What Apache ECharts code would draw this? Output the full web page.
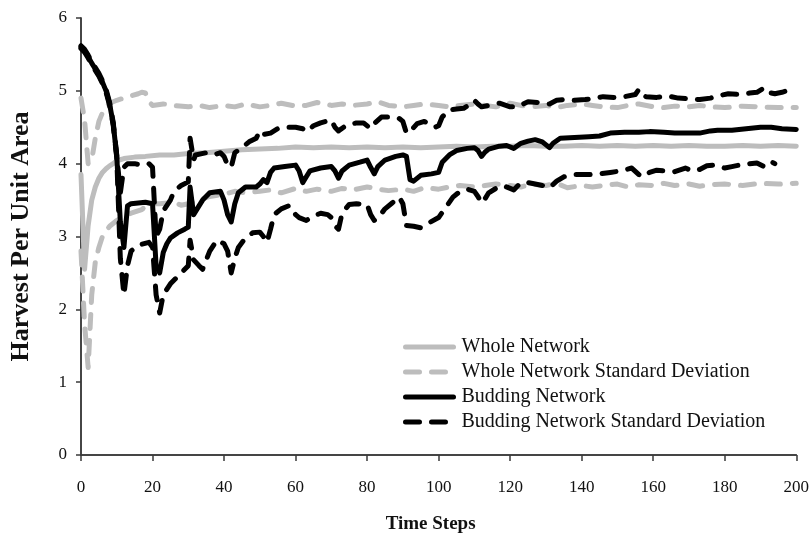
<!DOCTYPE html>
<html>
<head>
<meta charset="utf-8">
<script src="https://cdn.jsdelivr.net/npm/echarts@6/dist/echarts.min.js"></script>
<style>
  html, body { margin: 0; padding: 0; background: #fff; }
  #chart { width: 812px; height: 542px; }
</style>
</head>
<body>
<div id="chart"></div>
<script>
// data: [time step, harvest per unit area]
var wholeMean = [[0,3.85],[1,2.55],[2,3.15],[3,3.5],[4,3.68],[5,3.8],[6,3.88],[7,3.93],[8,3.97],[9,4.0],[10,4.04],[12,4.07],[15,4.09],[18,4.1],[22,4.12],[26,4.12],[30,4.14],[35,4.15],[40,4.17],[45,4.19],[50,4.2],[55,4.21],[60,4.23],[65,4.22],[70,4.23],[75,4.22],[80,4.23],[85,4.22],[90,4.23],[95,4.22],[100,4.23],[105,4.24],[110,4.23],[115,4.24],[120,4.24],[125,4.25],[130,4.24],[135,4.24],[140,4.25],[145,4.24],[150,4.25],[155,4.24],[160,4.25],[165,4.24],[170,4.25],[175,4.24],[180,4.24],[185,4.25],[190,4.24],[195,4.25],[200,4.24]];

var wholeUpper = [[0,4.9],[1,4.6],[2,4.0],[3,4.05],[4,4.35],[5,4.58],[6,4.7],[7,4.78],[8,4.83],[10,4.87],[12,4.9],[14,4.93],[16,4.96],[17,4.98],[18,4.97],[19,4.85],[20,4.8],[23,4.82],[26,4.8],[30,4.78],[33,4.8],[36,4.77],[40,4.8],[43,4.78],[46,4.82],[50,4.78],[53,4.8],[56,4.83],[60,4.79],[63,4.8],[66,4.84],[70,4.8],[73,4.82],[76,4.8],[80,4.82],[83,4.85],[86,4.8],[90,4.78],[93,4.8],[96,4.82],[100,4.8],[103,4.78],[106,4.8],[110,4.82],[113,4.8],[116,4.78],[120,4.83],[123,4.8],[126,4.78],[130,4.8],[133,4.77],[136,4.8],[140,4.82],[143,4.8],[146,4.78],[150,4.77],[153,4.8],[156,4.82],[160,4.78],[163,4.77],[166,4.79],[170,4.78],[173,4.8],[176,4.78],[180,4.77],[185,4.79],[190,4.78],[195,4.77],[200,4.77]];

var wholeLower = [[0,2.8],[1,1.8],[2,1.2],[3,2.2],[4,2.65],[5,2.85],[6,3.0],[7,3.08],[8,3.14],[10,3.22],[12,3.27],[14,3.32],[17,3.37],[19,3.45],[22,3.45],[26,3.47],[28,3.43],[30,3.45],[33,3.5],[36,3.55],[40,3.58],[43,3.62],[46,3.6],[50,3.62],[53,3.64],[56,3.6],[60,3.66],[63,3.62],[66,3.65],[70,3.62],[73,3.66],[76,3.64],[80,3.68],[83,3.65],[86,3.63],[90,3.65],[93,3.62],[96,3.67],[100,3.65],[103,3.68],[106,3.7],[110,3.68],[113,3.7],[116,3.72],[120,3.7],[123,3.68],[126,3.72],[130,3.7],[133,3.73],[136,3.67],[140,3.7],[143,3.68],[146,3.7],[150,3.72],[153,3.68],[156,3.71],[160,3.7],[163,3.73],[166,3.7],[170,3.72],[173,3.69],[176,3.71],[180,3.72],[185,3.7],[190,3.73],[195,3.72],[200,3.73]];

var budMean = [[0,5.6],[1,5.55],[2,5.47],[3,5.38],[4,5.3],[5,5.22],[6,5.12],[7,5.0],[8,4.82],[9,4.55],[10,4.1],[11,3.2],[12,2.85],[13,3.42],[14,3.45],[16,3.46],[18,3.47],[20,3.45],[21,2.6],[22,2.5],[23,2.78],[24,2.9],[25,2.98],[27,3.05],[29,3.1],[30,3.13],[30.5,3.68],[31.5,3.3],[33,3.42],[34,3.5],[36,3.6],[39,3.62],[40,3.5],[41,3.3],[42,3.2],[43,3.45],[44,3.6],[46,3.68],[49,3.68],[50,3.72],[51,3.78],[52,3.74],[53,3.88],[54,3.94],[57,3.96],[60,3.98],[61,3.9],[62,3.74],[63,3.82],[64,3.9],[67,3.94],[70,3.96],[71,3.9],[72,3.8],[73,3.9],[75,3.98],[78,4.02],[80,4.05],[81,3.95],[82,3.86],[83,3.96],[85,4.05],[88,4.1],[90,4.12],[91,4.1],[92,3.78],[93,3.76],[95,3.84],[98,3.86],[100,3.88],[101,4.02],[103,4.12],[105,4.18],[108,4.21],[110,4.22],[111,4.18],[112,4.1],[113,4.16],[114,4.2],[117,4.24],[119,4.25],[121,4.21],[123,4.28],[125,4.31],[127,4.33],[129,4.3],[131,4.22],[132,4.28],[134,4.35],[138,4.36],[142,4.37],[145,4.38],[148,4.42],[152,4.43],[156,4.43],[159,4.44],[163,4.43],[166,4.42],[170,4.42],[173,4.42],[176,4.45],[178,4.46],[182,4.46],[186,4.48],[190,4.5],[193,4.5],[196,4.48],[200,4.47]];

var budUpper = [[0,5.62],[1,5.57],[2,5.49],[3,5.4],[4,5.32],[5,5.24],[6,5.14],[7,5.02],[8,4.84],[9,4.57],[10,4.12],[11,3.6],[12,3.95],[13,4.0],[15,4.0],[17,3.98],[19,4.0],[20,3.95],[21,3.0],[22,3.1],[23,3.35],[25,3.5],[26,3.62],[28,3.7],[30,3.75],[30.5,4.35],[31.5,4.05],[32,4.12],[35,4.15],[37,4.12],[39,4.15],[40,4.1],[41,3.98],[42,3.95],[43,4.15],[45,4.22],[47,4.3],[49,4.35],[50,4.45],[51,4.4],[53,4.42],[55,4.48],[57,4.5],[60,4.5],[62,4.48],[63,4.44],[65,4.52],[67,4.56],[70,4.6],[71,4.5],[72,4.45],[74,4.52],[77,4.56],[79,4.56],[81,4.48],[82,4.55],[84,4.64],[87,4.64],[89,4.62],[90,4.58],[91,4.42],[92,4.44],[94,4.55],[96,4.58],[99,4.5],[100,4.52],[101,4.64],[103,4.74],[105,4.75],[107,4.76],[109,4.82],[110,4.87],[111,4.82],[112,4.78],[114,4.8],[117,4.83],[120,4.78],[122,4.78],[125,4.85],[128,4.84],[131,4.82],[133,4.87],[135,4.88],[138,4.87],[141,4.88],[144,4.9],[146,4.92],[149,4.91],[152,4.92],[155,4.95],[156,5.02],[157,4.95],[158,4.92],[161,4.91],[164,4.93],[167,4.9],[170,4.89],[173,4.88],[176,4.9],[178,4.93],[181,4.96],[184,4.95],[187,4.97],[189,4.98],[191,5.04],[192,4.98],[194,4.96],[196,4.98],[198,5.01],[200,5.0]];

var budLower = [[0,5.58],[1,5.53],[2,5.45],[3,5.36],[4,5.28],[5,5.2],[6,5.1],[7,4.98],[8,4.8],[9,4.53],[10,4.08],[11,2.7],[12,2.2],[13,2.6],[14,2.8],[16,2.88],[19,2.92],[20,2.85],[21,2.2],[22,1.95],[23,2.2],[25,2.35],[28,2.5],[30,2.6],[30.5,2.95],[31.5,2.68],[33,2.6],[34,2.55],[36,2.8],[38,2.95],[40,2.9],[41,2.8],[42,2.5],[43,2.7],[44,2.85],[46,2.98],[48,3.05],[50,3.06],[51,3.0],[52,2.92],[53,3.1],[54,3.3],[56,3.38],[58,3.42],[59,3.4],[60,3.3],[61,3.26],[63,3.22],[65,3.28],[67,3.32],[69,3.3],[70,3.26],[71,3.15],[72,3.1],[73,3.32],[75,3.44],[77,3.45],[80,3.44],[81,3.3],[82,3.22],[83,3.25],[85,3.38],[87,3.46],[89,3.54],[90,3.45],[91,3.15],[93,3.14],[95,3.12],[97,3.18],[100,3.26],[102,3.4],[104,3.54],[106,3.62],[108,3.65],[110,3.62],[111,3.55],[112,3.46],[113,3.52],[114,3.6],[116,3.66],[118,3.7],[120,3.66],[121,3.64],[123,3.74],[125,3.74],[127,3.72],[129,3.7],[131,3.67],[133,3.76],[135,3.82],[138,3.85],[142,3.85],[145,3.86],[148,3.88],[151,3.9],[154,3.94],[156,3.85],[157,3.82],[159,3.88],[161,3.91],[163,3.9],[166,3.89],[169,3.94],[171,3.9],[173,3.92],[175,3.97],[177,3.98],[180,3.94],[182,3.96],[184,3.98],[187,4.0],[189,4.01],[191,3.96],[193,4.03],[194,4.0]];

var seriesNames = ['Whole Network', 'Whole Network Standard Deviation', 'Budding Network', 'Budding Network Standard Deviation'];

var serif = "'Liberation Serif', 'Times New Roman', serif";
var grey = '#bdbdbd';
var axisCol = '#3a3a3a';
var dash = [14, 12];

function line(name, data, color, dashed) {
    return {
        name: name,
        type: 'line',
        data: data,
        symbol: 'none',
        animation: false,
        lineStyle: {
            color: color,
            width: 5,
            type: dashed ? dash : 'solid',
            cap: 'round',
            join: 'round'
        },
        itemStyle: { color: color }
    };
}

var mychart = echarts.init(document.getElementById('chart'));
var option = {
    backgroundColor: '#fff',
    animation: false,
    grid: {
        left: 75,
        right: 15,
        top: 18,
        bottom: 87
    },
    legend: {
        data: seriesNames,
        orient: 'vertical',
        left: 398,
        top: 332,
        itemWidth: 48,
        itemHeight: 12,
        itemGap: 5,
        itemStyle: { opacity: 0, borderWidth: 0 },
        lineStyle: { width: 5, cap: 'round' },
        textStyle: {
            fontFamily: serif,
            fontSize: 20,
            color: '#111',
            padding: [0, 0, 0, 3]
        }
    },
    xAxis: [
        {
            type: 'value',
            min: 0,
            max: 200,
            interval: 20,
            position: 'bottom',
            offset: 8,
            name: 'Time Steps',
            nameLocation: 'middle',
            nameGap: 52,
            nameTextStyle: { fontFamily: serif, fontSize: 19, fontWeight: 'bold', color: '#111', padding: [0, 16, 0, 0] },
            axisLine: { show: true, lineStyle: { color: axisCol, width: 1.5 } },
            axisTick: { show: true, length: 6, lineStyle: { color: axisCol, width: 1.5 } },
            axisLabel: { fontFamily: serif, fontSize: 17, color: '#111', margin: 16 },
            splitLine: { show: false }
        },
        {
            type: 'value',
            min: 0,
            max: 200,
            position: 'top',
            axisLine: { show: true, lineStyle: { color: axisCol, width: 1.5 } },
            axisTick: { show: false },
            axisLabel: { show: false },
            splitLine: { show: false }
        }
    ],
    yAxis: [
        {
            type: 'value',
            min: 0,
            max: 6,
            interval: 1,
            position: 'left',
            name: 'Harvest Per Unit Area',
            nameLocation: 'middle',
            nameRotate: 90,
            nameGap: 47,
            nameTextStyle: { fontFamily: serif, fontSize: 26, fontWeight: 'bold', color: '#111' },
            axisLine: { show: true, lineStyle: { color: axisCol, width: 1.5 } },
            axisTick: { show: true, length: 5, lineStyle: { color: axisCol, width: 1.5 } },
            axisLabel: { fontFamily: serif, fontSize: 17, color: '#111', margin: 14 },
            splitLine: { show: false }
        },
        {
            type: 'value',
            min: 0,
            max: 6,
            position: 'right',
            axisLine: { show: true, lineStyle: { color: axisCol, width: 1.5 } },
            axisTick: { show: false },
            axisLabel: { show: false },
            splitLine: { show: false }
        }
    ],
    series: [
        line(seriesNames[0], wholeMean, grey, false),
        line(seriesNames[1], wholeUpper, grey, true),
        line(seriesNames[1], wholeLower, grey, true),
        line(seriesNames[2], budMean, '#000', false),
        line(seriesNames[3], budUpper, '#000', true),
        line(seriesNames[3], budLower, '#000', true)
    ]
};
mychart.setOption(option);
</script>
</body>
</html>
